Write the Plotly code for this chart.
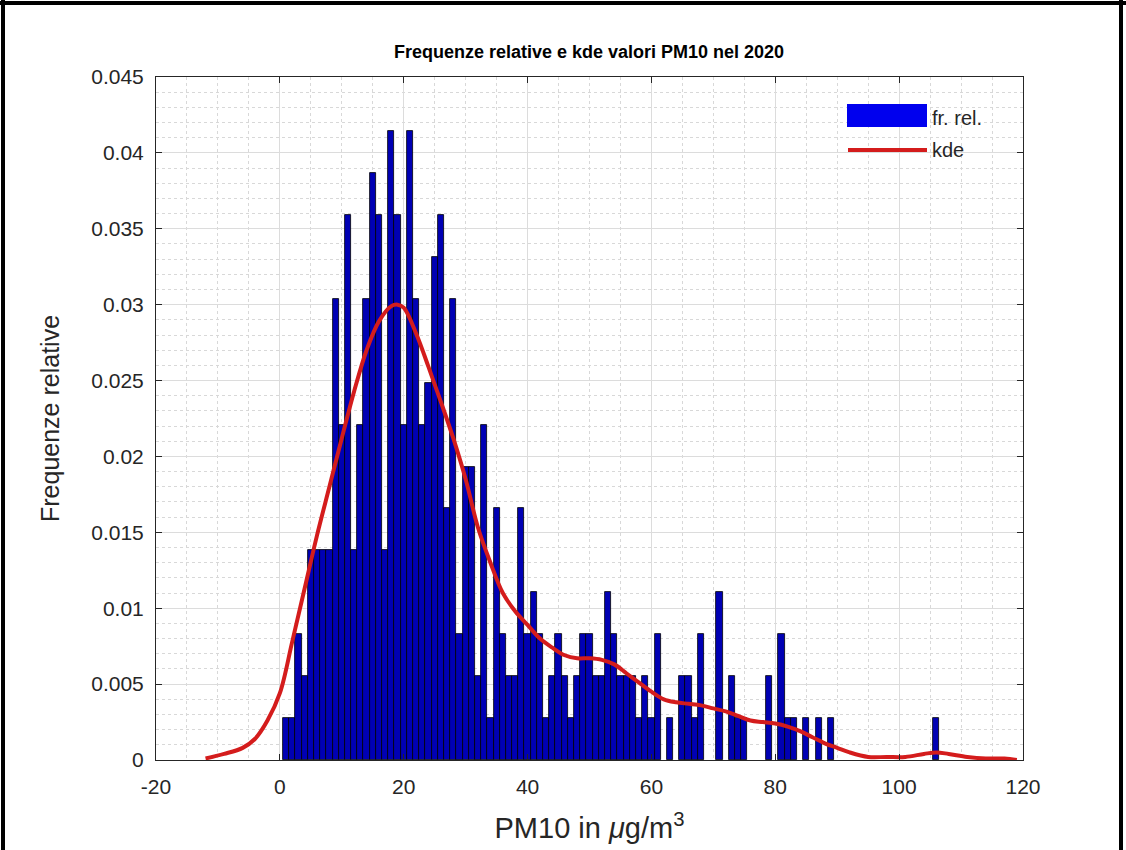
import plotly.graph_objects as go

# ---- data ----
pm10_values = [1, 2, 3, 4, 5, 6, 7, 8, 9, 10, 11, 12, 13, 14, 15, 16, 17, 18, 19, 20,
               21, 22, 23, 24, 25, 26, 27, 28, 29, 30, 31, 32, 33, 34, 35, 36, 37, 38, 39, 40,
               41, 42, 43, 44, 45, 46, 47, 48, 49, 50, 51, 52, 53, 54, 55, 56, 57, 58, 59, 60,
               61, 63, 65, 66, 67, 68, 71, 73, 74, 75, 79, 81, 82, 83, 85, 87, 89, 106]
day_counts = [1, 1, 3, 2, 5, 5, 5, 5, 11, 8, 13, 5, 8, 11, 14, 13, 5, 15, 13, 8,
              15, 11, 8, 9, 12, 13, 6, 11, 3, 7, 7, 2, 8, 1, 6, 3, 2, 2, 6, 3,
              4, 3, 1, 2, 3, 2, 1, 2, 3, 3, 2, 2, 4, 3, 2, 2, 2, 1, 2, 1,
              3, 1, 2, 2, 1, 3, 4, 2, 1, 1, 2, 3, 1, 1, 1, 1, 1, 1]

kde_x = [-12, -9, -6, -4, -2, 0, 2, 4, 6, 8, 10, 12, 14, 16, 18, 19, 20, 22, 24, 26,
         28, 30, 32, 34, 36, 38, 40, 42, 44, 46, 48, 50, 52, 54, 56, 58, 60, 62, 64, 66,
         68, 70, 72, 74, 76, 78, 80, 82, 84, 86, 88, 90, 92, 95, 98, 101, 104, 106, 108,
         111, 114, 117, 119]
kde_y = [0.0001, 0.0004, 0.0008, 0.0014, 0.0026, 0.0044, 0.0078, 0.0113, 0.0148, 0.0180,
         0.0212, 0.0243, 0.0270, 0.0289, 0.0299, 0.0300, 0.0298, 0.0281, 0.0259, 0.0236,
         0.0212, 0.0185, 0.0153, 0.0130, 0.0110, 0.0098, 0.0089, 0.0080, 0.0074, 0.0069,
         0.0067, 0.0067, 0.0066, 0.0063, 0.0057, 0.0051, 0.0045, 0.0040, 0.0038, 0.0037,
         0.0036, 0.0034, 0.0032, 0.0029, 0.0026, 0.0025, 0.0024, 0.0022, 0.0019, 0.0015,
         0.0011, 0.0008, 0.0005, 0.0002, 0.0002, 0.0002, 0.0004, 0.0005, 0.0004, 0.0002,
         0.0001, 0.0001, 0.0000]

x_ticks = [-20, 0, 20, 40, 60, 80, 100, 120]
y_ticks = [0, 0.005, 0.01, 0.015, 0.02, 0.025, 0.03, 0.035, 0.04, 0.045]
y_tick_text = ["0", "0.005", "0.01", "0.015", "0.02", "0.025", "0.03", "0.035", "0.04", "0.045"]

total = sum(day_counts)
rel_freq = [c / total for c in day_counts]

FONT = "Liberation Sans, Arial, sans-serif"
TXT = "#262626"
BAR_BLUE = "#0000B4"
KDE_RED = "#D41C1C"

fig = go.Figure()
fig.add_trace(go.Bar(
    x=pm10_values, y=rel_freq, width=1,
    marker=dict(color=BAR_BLUE, line=dict(color="#000000", width=0.8)),
    name="fr. rel.", showlegend=False,
))
fig.add_trace(go.Scatter(
    x=kde_x, y=kde_y, mode="lines",
    line=dict(color=KDE_RED, width=4, shape="spline", smoothing=1.0),
    name="kde", showlegend=False,
))

W, H = 1126, 850
ML, MR, MT, MB = 156, 103, 77, 90
pw = W - ML - MR
ph = H - MT - MB

def px(xp):
    return (xp - ML) / pw

def py(yp):
    return (H - MB - yp) / ph

axis_common = dict(
    showline=True, linecolor=TXT, linewidth=1, mirror="ticks",
    ticks="inside", ticklen=6, tickcolor=TXT, tickwidth=1,
    showgrid=True, gridcolor="#DCDCDC", gridwidth=1,
    zeroline=False,
    tickfont=dict(family=FONT, size=21, color=TXT),
)

fig.update_xaxes(
    range=[-20, 120], tickvals=x_ticks, ticktext=[str(v) for v in x_ticks],
    ticklabelstandoff=8,
    minor=dict(dtick=5, tick0=0, showgrid=True, gridcolor="#D8D8D8", griddash="dot", ticklen=0),
    title=dict(text="PM10 in <i>μ</i>g/m<sup>3</sup>", font=dict(family=FONT, size=29, color=TXT), standoff=20),
    **axis_common,
)
fig.update_yaxes(
    range=[0, 0.045], tickvals=y_ticks, ticktext=y_tick_text,
    ticklabelstandoff=7,
    minor=dict(dtick=0.001, tick0=0, showgrid=True, gridcolor="#D8D8D8", griddash="dot", ticklen=0),
    title=dict(text="Frequenze relative", font=dict(family=FONT, size=25, color=TXT), standoff=24),
    **axis_common,
)

shapes = []
annotations = []
# custom MATLAB-like legend (no box)
shapes.append(dict(type="rect", xref="paper", yref="paper",
                   x0=px(847), x1=px(927), y0=py(127), y1=py(104),
                   fillcolor="#0000EE", line=dict(width=0), layer="above"))
shapes.append(dict(type="line", xref="paper", yref="paper",
                   x0=px(848), x1=px(927), y0=py(150), y1=py(150),
                   line=dict(color=KDE_RED, width=4), layer="above"))
annotations.append(dict(text="fr. rel.", xref="paper", yref="paper", x=px(930), y=py(118),
                        xanchor="left", yanchor="middle", showarrow=False,
                        font=dict(family=FONT, size=20, color=TXT)))
annotations.append(dict(text="kde", xref="paper", yref="paper", x=px(930), y=py(150),
                        xanchor="left", yanchor="middle", showarrow=False,
                        font=dict(family=FONT, size=20, color=TXT)))
# outer black frame of the screenshot (left, top, right edges)
frame_segments = [((3, 852), (3, 0)), ((0, 3), (1126, 3)), ((1121, 0), (1121, 852))]
for (xa, ya), (xb, yb) in frame_segments:
    shapes.append(dict(type="line", xref="paper", yref="paper", layer="above",
                       x0=px(xa), y0=py(ya), x1=px(xb), y1=py(yb),
                       line=dict(color="#000000", width=4)))

fig.update_layout(
    width=W, height=H,
    margin=dict(l=ML, r=MR, t=MT, b=MB),
    paper_bgcolor="#FFFFFF", plot_bgcolor="#FFFFFF",
    bargap=0,
    title=dict(text="<b>Frequenze relative e kde valori PM10 nel 2020</b>",
               xref="paper", x=px(589), xanchor="center",
               yref="container", y=1 - 52 / H, yanchor="middle",
               font=dict(family=FONT, size=18, color="#000000")),
    shapes=shapes, annotations=annotations,
    showlegend=False,
)

fig.write_html("out.html", config={"displayModeBar": False},
               post_script="document.body.style.margin='0';document.body.style.overflow='hidden';")
